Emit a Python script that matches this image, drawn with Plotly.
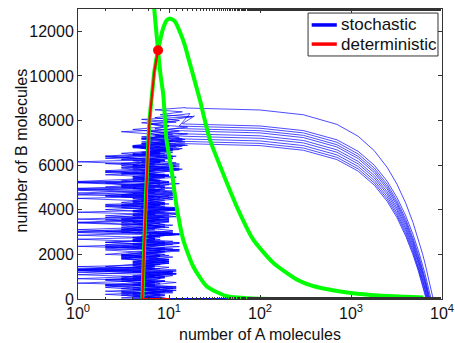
import plotly.graph_objects as go

FONT = "Liberation Sans, Arial, sans-serif"

# ---------------- axis ticks ----------------
x_tick_vals = [1, 10, 100, 1000, 10000]
x_tick_text = ["10<sup>0</sup>", "10<sup>1</sup>", "10<sup>2</sup>", "10<sup>3</sup>", "10<sup>4</sup>"]
y_tick_vals = [0, 2000, 4000, 6000, 8000, 10000, 12000]
x_title = "number of A molecules"
y_title = "number of B molecules"

# ---------------- stochastic: noisy phase (A integer, B rising) ----------------
zig_A = [
    [10, 6, 4, 9, 5, 2, 7, 12, 5, 3,
     8, 1, 6, 10, 4, 7, 5, 11, 3, 6,
     9, 4, 7, 2, 8, 5, 13, 6, 4, 10,
     5, 7, 3, 9, 6, 1, 11, 5, 8, 4,
     7, 12, 3, 6, 9, 2, 5, 10, 6, 4,
     8, 5, 14, 3, 7, 1, 6, 9, 4, 11,
     6, 4, 10, 5, 8, 13, 7, 3, 9, 16,
     6, 12, 5, 18, 8, 14, 7, 15],
    [10, 7, 3, 11, 5, 8, 2, 6, 9, 4,
     6, 12, 1, 7, 5, 10, 4, 8, 3, 6,
     9, 5, 2, 7, 11, 4, 6, 13, 5, 3,
     8, 6, 10, 1, 5, 7, 4, 12, 6, 2,
     9, 5, 7, 3, 11, 6, 4, 8, 1, 7,
     5, 10, 3, 6, 9, 4, 12, 7, 2, 5,
     8, 6, 11, 4, 7, 14, 5, 9, 6, 13,
     7, 10, 5, 12, 19, 14],
    [10, 5, 8, 3, 12, 6, 4, 9, 2, 7,
     5, 11, 6, 1, 8, 4, 10, 6, 3, 7,
     13, 5, 2, 8, 6, 4, 9, 1, 7, 5,
     11, 3, 6, 8, 5, 12, 4, 7, 2, 9,
     6, 4, 10, 5, 8, 1, 7, 13, 3, 6,
     9, 5, 11, 4, 7, 2, 8, 6, 12, 5,
     7, 10, 4, 9, 6, 15, 5, 11, 8, 4,
     9, 6, 13, 7, 17, 13],
    [10, 4, 9, 6, 2, 11, 5, 7, 3, 8,
     6, 12, 4, 1, 7, 5, 10, 3, 6, 9,
     5, 8, 2, 11, 4, 7, 6, 13, 3, 5,
     9, 6, 1, 8, 4, 10, 5, 7, 12, 3,
     6, 9, 4, 2, 7, 5, 11, 6, 1, 8,
     4, 10, 5, 7, 3, 12, 6, 9, 5, 2,
     8, 6, 14, 4, 7, 11, 5, 9, 16, 6,
     13],
    [10, 6, 3, 8, 5, 12, 2, 7, 4, 9,
     6, 11, 1, 5, 8, 4, 10, 6, 3, 7,
     13, 5, 9, 2, 6, 4, 8, 11, 5, 3,
     7, 1, 10, 6, 4, 9, 5, 12, 3, 7,
     5, 8, 2, 11, 6, 4, 9, 7, 1, 5,
     10, 3, 6, 8, 4, 13, 5, 7, 2, 9,
     6, 11, 4, 8, 15, 5, 10, 7, 14],
    [10, 8, 4, 6, 11, 3, 7, 5, 9, 1,
     6, 12, 4, 8, 2, 5, 10, 7, 3, 6,
     9, 5, 13, 4, 7, 1, 8, 6, 11, 3,
     5, 9, 6, 2, 10, 4, 7, 12, 5, 8,
     3, 6, 11, 4, 1, 7, 9, 5, 2, 8,
     6, 10, 4, 7, 13, 5, 3, 9, 6, 11,
     4, 8, 6, 12, 5, 9, 14, 7, 12],
    [10, 5, 9, 3, 7, 12, 4, 6, 2, 8,
     11, 5, 1, 7, 4, 9, 6, 3, 10, 5,
     8, 2, 6, 13, 4, 7, 5, 11, 1, 6,
     9, 3, 7, 5, 12, 4, 8, 6, 2, 10,
     5, 7, 3, 11, 6, 1, 9, 4, 8, 5,
     12, 6, 2, 7, 10, 4, 5, 9, 3, 8,
     6, 11, 4, 15, 7, 10, 6, 13],
    [10, 7, 4, 11, 5, 2, 8, 6, 3, 9,
     5, 12, 1, 7, 4, 10, 6, 8, 2, 5,
     11, 3, 7, 9, 4, 6, 13, 5, 1, 8,
     6, 4, 10, 2, 7, 5, 12, 3, 9, 6,
     4, 8, 11, 5, 1, 7, 3, 10, 6, 4,
     9, 5, 2, 8, 13, 6, 4, 11, 7, 3,
     6, 10, 14, 5, 9, 12],
    [10, 3, 8, 5, 12, 4, 7, 1, 6, 9,
     4, 11, 2, 7, 5, 10, 6, 3, 8, 5,
     13, 6, 1, 9, 4, 7, 5, 11, 2, 6,
     8, 4, 10, 3, 7, 12, 5, 2, 9, 6,
     4, 11, 7, 1, 5, 8, 3, 10, 6, 4,
     9, 2, 7, 13, 5, 3, 8, 6, 11, 4,
     7, 10, 5, 16, 8, 11],
    [10, 6, 2, 9, 4, 11, 5, 7, 3, 8,
     1, 6, 12, 4, 7, 5, 10, 3, 8, 6,
     2, 9, 5, 13, 4, 7, 1, 6, 11, 5,
     3, 8, 6, 10, 2, 7, 4, 12, 5, 9,
     6, 1, 8, 4, 11, 5, 3, 7, 10, 6,
     4, 9, 2, 12, 6, 5, 8, 3, 7, 10,
     5, 13, 7, 9, 12],
]
zig_B = [
    [0, 90, 200, 330, 410, 520, 650, 740, 860, 990,
     1080, 1200, 1310, 1420, 1550, 1640, 1760, 1880, 1970, 2100,
     2210, 2320, 2450, 2540, 2660, 2790, 2880, 3000, 3120, 3210,
     3340, 3460, 3550, 3670, 3800, 3890, 4010, 4130, 4220, 4350,
     4470, 4560, 4680, 4810, 4900, 5020, 5140, 5230, 5360, 5480,
     5570, 5690, 5820, 5910, 6030, 6150, 6240, 6370, 6490, 6580,
     6700, 6830, 6920, 7040, 7160, 7250, 7380, 7500, 7590, 7710,
     7840, 7930, 8050, 8170, 8260, 8390, 8480, 8580],
    [0, 60, 170, 280, 370, 490, 610, 700, 820, 940,
     1030, 1150, 1270, 1360, 1480, 1600, 1690, 1810, 1930, 2020,
     2140, 2260, 2350, 2470, 2590, 2680, 2800, 2920, 3010, 3130,
     3250, 3340, 3460, 3580, 3670, 3790, 3910, 4000, 4120, 4240,
     4330, 4450, 4570, 4660, 4780, 4900, 4990, 5110, 5230, 5320,
     5440, 5560, 5650, 5770, 5890, 5980, 6100, 6220, 6310, 6430,
     6550, 6640, 6760, 6880, 6970, 7090, 7210, 7300, 7420, 7540,
     7630, 7750, 7900, 8060, 8200, 7860],
    [0, 130, 220, 340, 460, 550, 670, 790, 880, 1000,
     1120, 1210, 1330, 1450, 1540, 1660, 1780, 1870, 1990, 2110,
     2200, 2320, 2440, 2530, 2650, 2770, 2860, 2980, 3100, 3190,
     3310, 3430, 3520, 3640, 3760, 3850, 3970, 4090, 4180, 4300,
     4420, 4510, 4630, 4750, 4840, 4960, 5080, 5170, 5290, 5410,
     5500, 5620, 5740, 5830, 5950, 6070, 6160, 6280, 6400, 6490,
     6610, 6730, 6820, 6940, 7060, 7150, 7270, 7390, 7480, 7600,
     7720, 7850, 8000, 8130, 8310, 7760],
    [0, 40, 150, 260, 350, 470, 590, 680, 800, 920,
     1010, 1130, 1250, 1340, 1460, 1580, 1670, 1790, 1910, 2000,
     2120, 2240, 2330, 2450, 2570, 2660, 2780, 2900, 2990, 3110,
     3230, 3320, 3440, 3560, 3650, 3770, 3890, 3980, 4100, 4220,
     4310, 4430, 4550, 4640, 4760, 4880, 4970, 5090, 5210, 5300,
     5420, 5540, 5630, 5750, 5870, 5960, 6080, 6200, 6290, 6410,
     6530, 6620, 6740, 6860, 6950, 7070, 7190, 7280, 7400, 7520,
     7650],
    [0, 110, 230, 320, 440, 560, 650, 770, 890, 980,
     1100, 1220, 1310, 1430, 1550, 1640, 1760, 1880, 1970, 2090,
     2210, 2300, 2420, 2540, 2630, 2750, 2870, 2960, 3080, 3200,
     3290, 3410, 3530, 3620, 3740, 3860, 3950, 4070, 4190, 4280,
     4400, 4520, 4610, 4730, 4850, 4940, 5060, 5180, 5270, 5390,
     5510, 5600, 5720, 5840, 5930, 6050, 6170, 6260, 6380, 6500,
     6590, 6710, 6830, 6920, 7040, 7160, 7250, 7370, 7550],
    [0, 20, 120, 250, 370, 460, 580, 700, 790, 910,
     1030, 1120, 1240, 1360, 1450, 1570, 1690, 1780, 1900, 2020,
     2110, 2230, 2350, 2440, 2560, 2680, 2770, 2890, 3010, 3100,
     3220, 3340, 3430, 3550, 3670, 3760, 3880, 4000, 4090, 4210,
     4330, 4420, 4540, 4660, 4750, 4870, 4990, 5080, 5200, 5320,
     5410, 5530, 5650, 5740, 5860, 5980, 6070, 6190, 6310, 6400,
     6520, 6640, 6730, 6850, 6970, 7060, 7180, 7300, 7420],
    [0, 80, 190, 300, 400, 510, 630, 720, 840, 960,
     1050, 1170, 1290, 1380, 1500, 1620, 1710, 1830, 1950, 2040,
     2160, 2280, 2370, 2490, 2610, 2700, 2820, 2940, 3030, 3150,
     3270, 3360, 3480, 3600, 3690, 3810, 3930, 4020, 4140, 4260,
     4350, 4470, 4590, 4680, 4800, 4920, 5010, 5130, 5250, 5340,
     5460, 5580, 5670, 5790, 5910, 6000, 6120, 6240, 6330, 6450,
     6570, 6660, 6780, 6900, 6990, 7110, 7210, 7310],
    [0, 150, 260, 350, 470, 590, 680, 800, 920, 1010,
     1130, 1250, 1340, 1460, 1580, 1670, 1790, 1910, 2000, 2120,
     2240, 2330, 2450, 2570, 2660, 2780, 2900, 2990, 3110, 3230,
     3320, 3440, 3560, 3650, 3770, 3890, 3980, 4100, 4220, 4310,
     4430, 4550, 4640, 4760, 4880, 4970, 5090, 5210, 5300, 5420,
     5540, 5630, 5750, 5870, 5960, 6080, 6200, 6290, 6410, 6530,
     6620, 6740, 6860, 6950, 7070, 7190],
    [0, 50, 170, 290, 380, 500, 620, 710, 830, 950,
     1040, 1160, 1280, 1370, 1490, 1610, 1700, 1820, 1940, 2030,
     2150, 2270, 2360, 2480, 2600, 2690, 2810, 2930, 3020, 3140,
     3260, 3350, 3470, 3590, 3680, 3800, 3920, 4010, 4130, 4250,
     4340, 4460, 4580, 4670, 4790, 4910, 5000, 5120, 5240, 5330,
     5450, 5570, 5660, 5780, 5900, 5990, 6110, 6230, 6320, 6440,
     6560, 6650, 6770, 6890, 6980, 7080],
    [0, 100, 210, 310, 430, 550, 640, 760, 880, 970,
     1090, 1210, 1300, 1420, 1540, 1630, 1750, 1870, 1960, 2080,
     2200, 2290, 2410, 2530, 2620, 2740, 2860, 2950, 3070, 3190,
     3280, 3400, 3520, 3610, 3730, 3850, 3940, 4060, 4180, 4270,
     4390, 4510, 4600, 4720, 4840, 4930, 5050, 5170, 5260, 5380,
     5500, 5590, 5710, 5830, 5920, 6040, 6160, 6250, 6370, 6490,
     6580, 6700, 6820, 6900, 6980],
]

# ---------------- stochastic: escape phase (smooth curves) ----------------
curve_A = [15, 100, 300, 700, 1200, 1800, 2500, 3200, 4000, 4800, 5500, 6100, 6500]
curve_Amax = [8000, 7600, 7400, 7300, 7200, 7100, 7000, 6900, 6800, 6700]
curve_B = [
    [8564, 8473, 8258, 7829, 7293, 6650, 5899, 5148, 4290, 3432, 2681, 2037, 1609],
    [7844, 7757, 7550, 7136, 6619, 5999, 5275, 4550, 3723, 2896, 2172, 1551, 1137],
    [7744, 7655, 7446, 7026, 6501, 5873, 5139, 4404, 3566, 2727, 1993, 1363, 943],
    [7634, 7545, 7336, 6916, 6392, 5764, 5030, 4296, 3459, 2620, 1886, 1258, 838],
    [7534, 7445, 7235, 6816, 6292, 5663, 4929, 4195, 3355, 2517, 1783, 1154, 734],
    [7404, 7315, 7106, 6688, 6166, 5539, 4807, 4076, 3240, 2404, 1672, 1045, 627],
    [7294, 7206, 6997, 6579, 6057, 5431, 4700, 3969, 3133, 2298, 1566, 940, 522],
    [7174, 7086, 6877, 6461, 5940, 5314, 4585, 3855, 3022, 2188, 1459, 833, 417],
    [7064, 6976, 6768, 6351, 5830, 5206, 4477, 3748, 2915, 2082, 1353, 729, 312],
    [6964, 6876, 6667, 6251, 5730, 5105, 4376, 3647, 2813, 1980, 1250, 625, 209],
]
return_A = [10]  # trajectories come back along B = 0

# ---------------- nullclines ----------------
hump_A = [5.1, 5.3, 5.56, 5.85, 6.1, 6.5, 6.9, 7.58, 8.65, 9.39, 10.2, 11.6, 13.1, 15.0, 16.5, 18.8,
          21.8, 28.1, 37.8, 55.3, 84, 140, 253, 400, 650, 1000, 2000, 4000, 6240]
hump_B = [0, 2000, 4460, 6500, 8000, 9160, 10200, 11150, 12150, 12480, 12570, 12450, 12000, 11350, 10730,
          9900, 8940, 7150, 5800, 4160, 2670, 1620, 874, 560, 380, 270, 160, 100, 67]
steep_A = [6.7, 6.86, 7.58, 8.1, 8.65, 9.38, 10.65, 12.1, 14.3, 18.4, 25.9, 43, 100, 157]
steep_B = [13600, 13060, 11150, 10000, 9160, 7150, 5800, 4160, 2670, 1470, 574, 125, 10, 5]

# ---------------- deterministic ----------------
det_A = [10.2, 5.1, 5.3, 5.56, 5.85, 6.1, 6.5, 6.9, 7.58]
det_B = [0, 0, 2000, 4460, 6500, 8000, 9160, 10200, 11150]
fixed_A = [7.58]
fixed_B = [11150]

legend_names = ["stochastic", "deterministic"]

BLUE = "#0000ff"
GREEN = "#00ff00"
RED = "#ff0000"
AX = "#333333"
TXT = "#111111"

for a, b in zip(zig_A, zig_B):
    assert len(a) == len(b), (len(a), len(b))

fig = go.Figure()

for k in range(len(zig_A)):
    xs = zig_A[k] + curve_A + [curve_Amax[k]] + return_A
    ys = zig_B[k] + curve_B[k] + [0] + [0]
    fig.add_trace(go.Scatter(x=xs, y=ys, mode="lines", line=dict(color=BLUE, width=0.7),
                             showlegend=False, hoverinfo="skip"))

fig.add_trace(go.Scatter(x=hump_A, y=hump_B, mode="lines",
                         line=dict(color=GREEN, width=4, shape="spline", smoothing=0.6),
                         showlegend=False))
fig.add_trace(go.Scatter(x=steep_A, y=steep_B, mode="lines",
                         line=dict(color=GREEN, width=4, shape="spline", smoothing=0.6),
                         showlegend=False))
fig.add_trace(go.Scatter(x=det_A, y=det_B, mode="lines", line=dict(color=RED, width=2.2),
                         showlegend=False, cliponaxis=False))
fig.add_trace(go.Scatter(x=fixed_A, y=fixed_B, mode="markers", marker=dict(color=RED, size=10),
                         showlegend=False))
# empty trace so the mirrored top axis (minor ticks) is drawn
fig.add_trace(go.Scatter(x=fixed_A, y=[None], xaxis="x2", mode="lines", showlegend=False,
                         hoverinfo="skip"))

# legend drawn by hand (box, line samples, labels) in paper coordinates
lg_x0, lg_x1, lg_y0, lg_y1 = 0.632, 0.989, 0.838, 0.986
sample_x0, sample_x1, text_x = 0.642, 0.711, 0.718
row_y = [0.945, 0.879]
row_col = [BLUE, RED]
shapes = [dict(type="rect", xref="paper", yref="paper", x0=lg_x0, x1=lg_x1, y0=lg_y0, y1=lg_y1,
               line=dict(color=AX, width=1), fillcolor="white", layer="above")]
annotations = []
for name, yy, col in zip(legend_names, row_y, row_col):
    shapes.append(dict(type="line", xref="paper", yref="paper", x0=sample_x0, x1=sample_x1, y0=yy, y1=yy,
                       line=dict(color=col, width=3.5), layer="above"))
    annotations.append(dict(xref="paper", yref="paper", x=text_x, y=yy, xanchor="left", yanchor="middle",
                            text=name, showarrow=False, font=dict(family=FONT, size=17, color=TXT)))
# y axis title placed explicitly
annotations.append(dict(xref="paper", yref="paper", x=-0.155, y=0.511, xanchor="center", yanchor="middle",
                        text=y_title, textangle=-90, showarrow=False,
                        font=dict(family=FONT, size=16, color=TXT)))

axis_common = dict(showline=True, linecolor=AX, linewidth=1, ticks="inside",
                   tickcolor=AX, ticklen=4, showgrid=False, zeroline=False, automargin=False,
                   tickfont=dict(family=FONT, size=16, color=TXT))

fig.update_layout(
    width=455, height=343,
    margin=dict(l=78, r=13, t=9, b=44),
    paper_bgcolor="white", plot_bgcolor="white",
    font=dict(family=FONT, size=16, color=TXT),
    showlegend=False,
    shapes=shapes,
    annotations=annotations,
    xaxis=dict(type="log", range=[0, 4], tickvals=x_tick_vals, ticktext=x_tick_text, mirror=True,
               minor=dict(ticks="inside", ticklen=2, tickcolor=AX, showgrid=False),
               title=dict(text=x_title, font=dict(family=FONT, size=16, color=TXT), standoff=11),
               **axis_common),
    xaxis2=dict(type="log", range=[0, 4], overlaying="x", side="top", tickvals=x_tick_vals,
                showticklabels=False, anchor="y",
                minor=dict(ticks="inside", ticklen=2, tickcolor=AX, showgrid=False),
                **axis_common),
    yaxis=dict(range=[0, 13000], tickvals=y_tick_vals, tickformat="d", mirror="ticks", **axis_common),
)

fig.write_html("out.html")
